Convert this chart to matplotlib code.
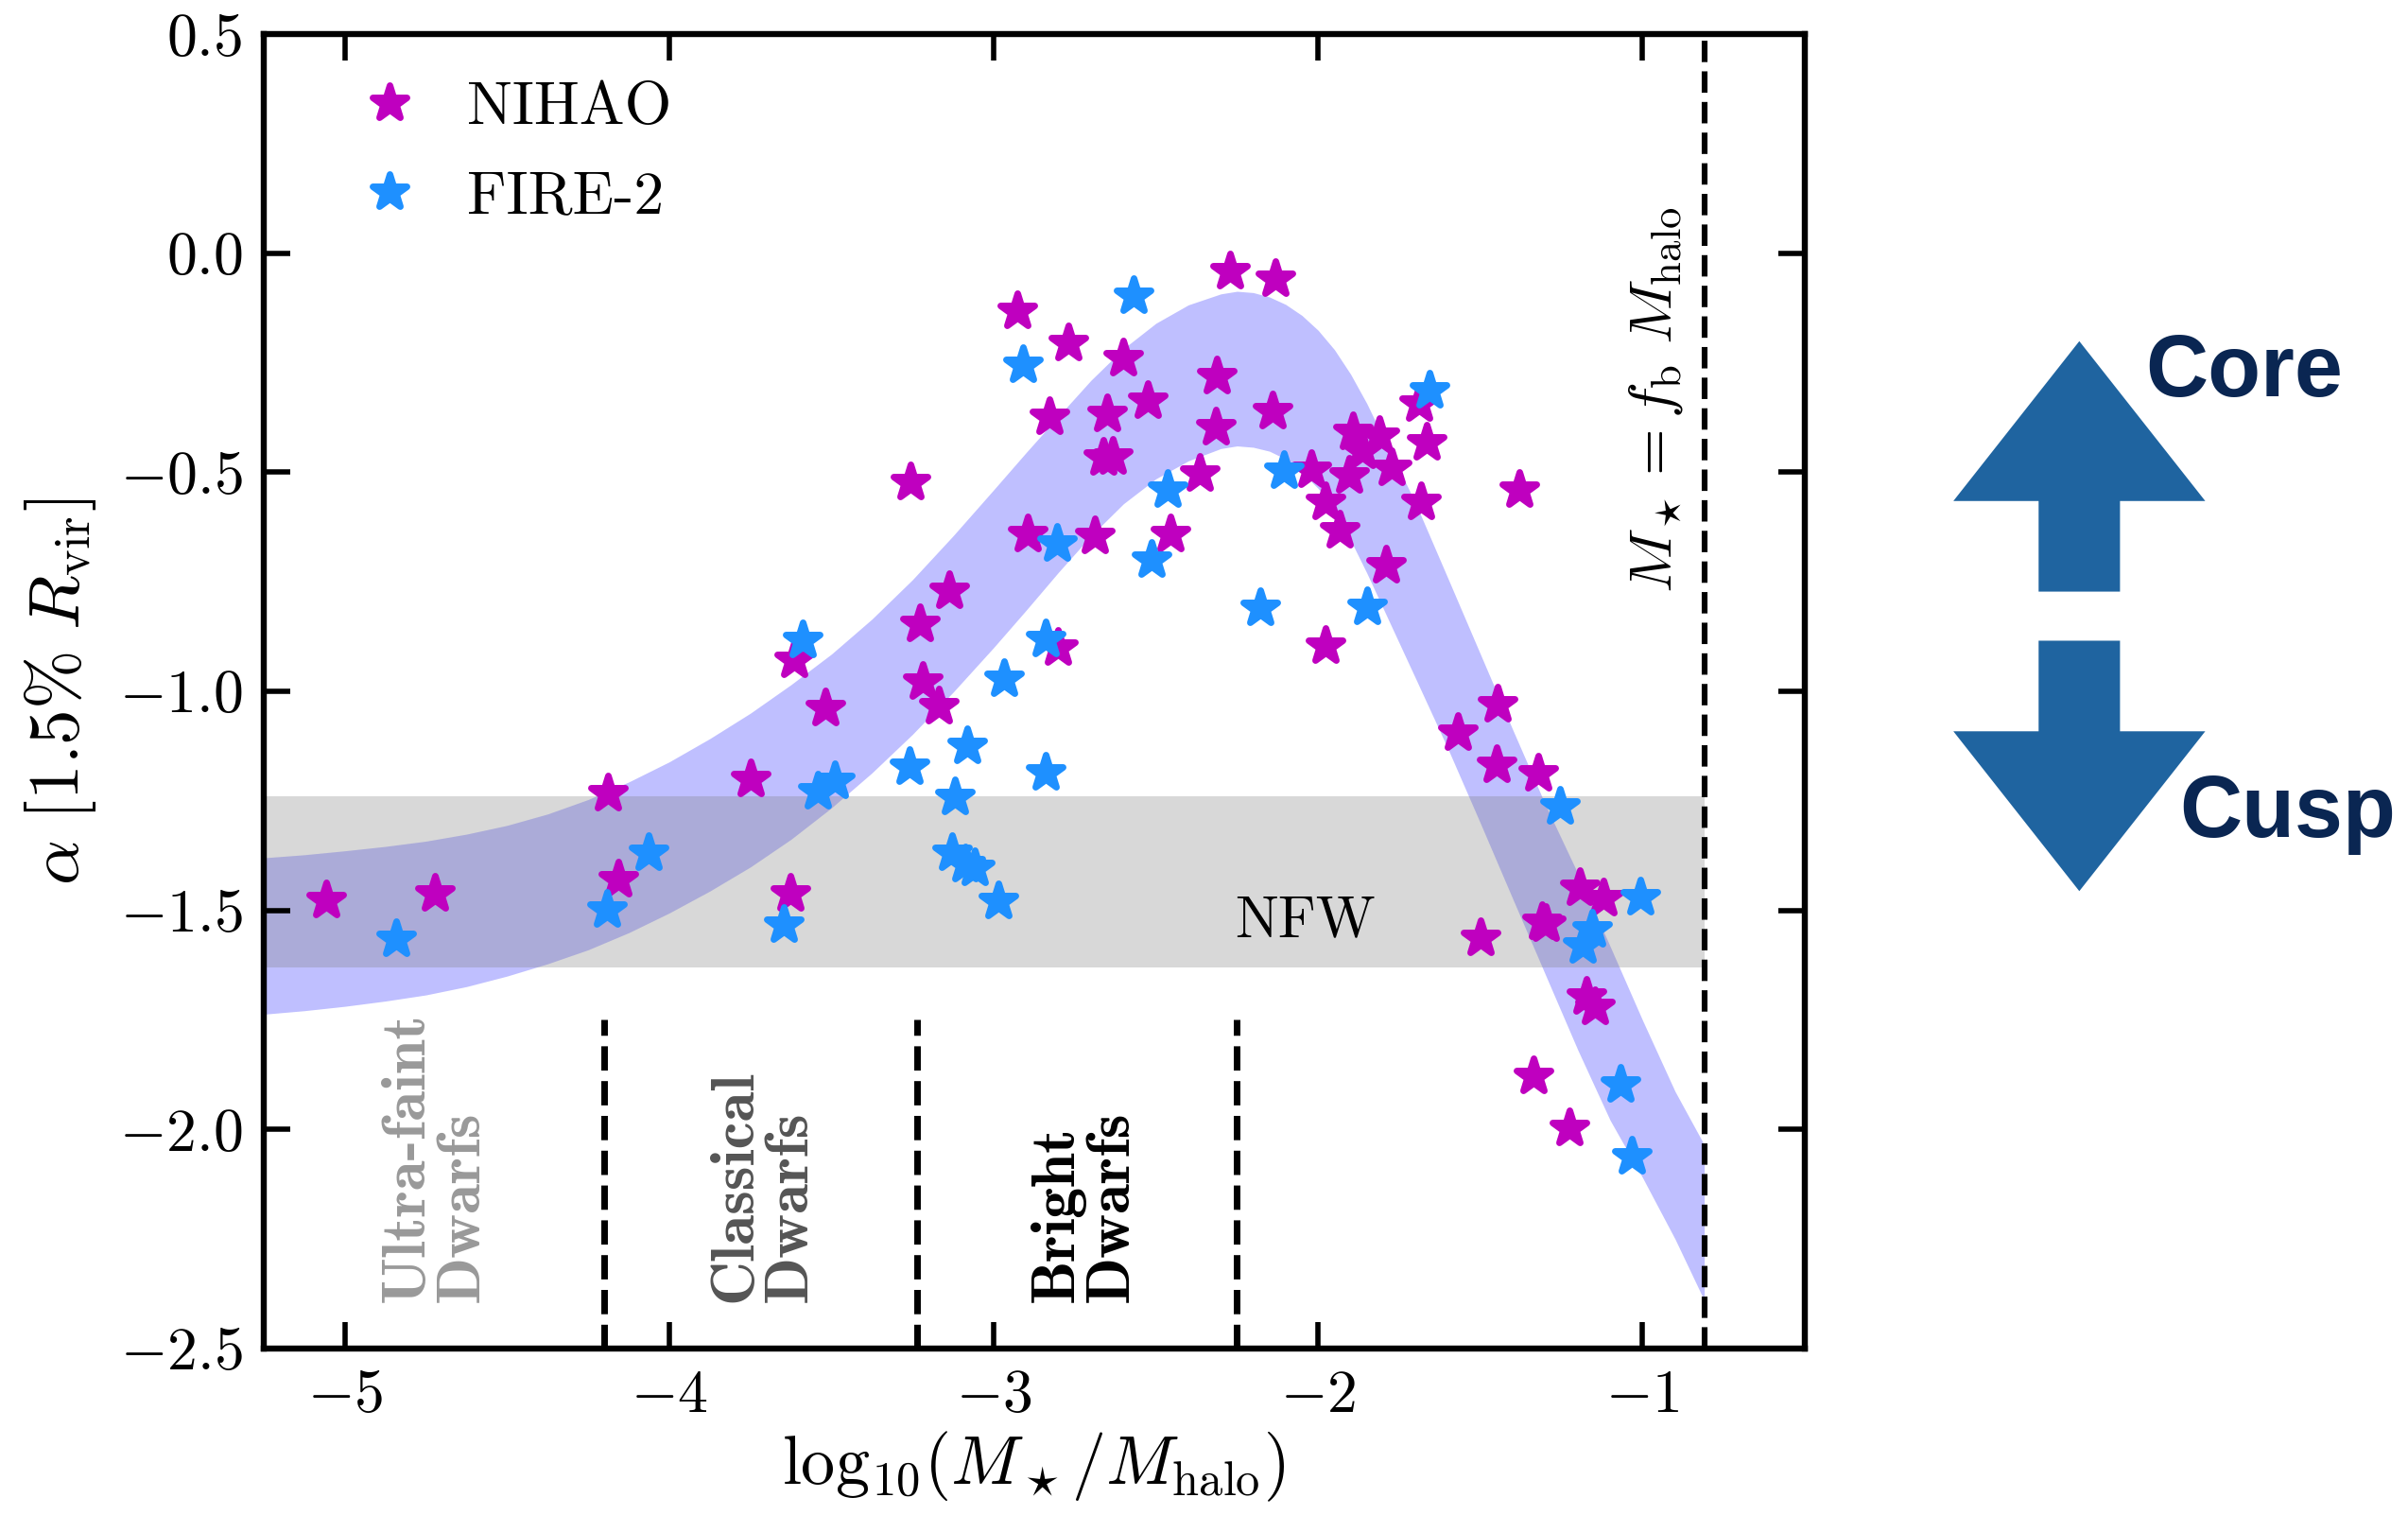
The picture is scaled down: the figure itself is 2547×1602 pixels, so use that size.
import matplotlib
matplotlib.use("Agg")
import matplotlib.pyplot as plt
from matplotlib.patches import FancyArrow
from matplotlib.markers import MarkerStyle

plt.rcParams['font.family'] = 'serif'
plt.rcParams['font.serif'] = ['cmr10']
plt.rcParams['mathtext.fontset'] = 'cm'
plt.rcParams['axes.formatter.use_mathtext'] = True

# simulated galaxies: log10(M*/Mhalo), inner slope alpha
nihao_x = [-5.056, -4.723, -4.189, -4.157, -3.750, -3.626, -3.615, -3.518, -3.256,
           -3.227, -3.219, -3.169, -3.136, -2.928, -2.896, -2.827, -2.801, -2.769,
           -2.688, -2.662, -2.634, -2.651, -2.600, -2.526, -2.455, -2.366, -2.311,
           -2.314, -2.272, -2.131, -2.141, -2.020, -1.976, -1.978, -1.933, -1.905,
           -1.894, -1.865, -1.811, -1.772, -1.792, -1.690, -1.666, -1.683, -1.379,
           -1.569, -1.447, -1.449, -1.321, -1.499, -1.311, -1.297, -1.193, -1.122,
           -1.172, -1.148, -1.335, -1.226]
nihao_y = [-1.476, -1.461, -1.233, -1.430, -1.200, -1.463, -0.928, -1.038, -0.524,
           -0.847, -0.979, -1.035, -0.772, -0.133, -0.641, -0.374, -0.900, -0.206,
           -0.645, -0.467, -0.465, -0.368, -0.240, -0.337, -0.641, -0.503, -0.282,
           -0.398, -0.042, -0.059, -0.362, -0.494, -0.569, -0.896, -0.633, -0.508,
           -0.408, -0.451, -0.418, -0.490, -0.713, -0.343, -0.433, -0.569, -0.541,
           -1.095, -1.030, -1.169, -1.187, -1.564, -1.527, -1.531, -1.450, -1.473,
           -1.697, -1.720, -1.878, -1.997]

fire_x = [-4.842, -4.192, -4.064, -3.648, -3.588, -3.541, -3.491, -3.260, -3.127,
          -3.088, -3.059, -3.119, -3.081, -2.985, -2.969, -2.840, -2.840, -2.911,
          -2.806, -2.570, -2.513, -2.464, -2.177, -2.106, -1.850, -1.656, -1.255,
          -1.008, -1.156, -1.185, -1.069, -1.032]
fire_y = [-1.566, -1.498, -1.369, -1.534, -0.883, -1.228, -1.204, -1.172, -1.369,
          -1.395, -1.403, -1.242, -1.125, -1.480, -0.972, -0.881, -1.186, -0.255,
          -0.663, -0.098, -0.701, -0.540, -0.810, -0.497, -0.807, -0.314, -1.264,
          -1.470, -1.543, -1.581, -1.897, -2.063]

# fitted relation band, upper and lower edge
band_x = [-5.25, -5.125, -5.0, -4.875, -4.75, -4.625, -4.5, -4.375, -4.25, -4.125,
          -4.0, -3.875, -3.75, -3.625, -3.5, -3.375, -3.25, -3.125, -3.0, -2.9,
          -2.8, -2.7, -2.6, -2.5, -2.4, -2.3, -2.25, -2.2, -2.15, -2.1, -2.05,
          -2.0, -1.95, -1.9, -1.85, -1.8, -1.75, -1.7, -1.6, -1.5, -1.4, -1.3,
          -1.2, -1.1, -1.0, -0.9, -0.81]
band_hi = [-1.380, -1.373, -1.364, -1.354, -1.342, -1.326, -1.306, -1.280, -1.247,
           -1.207, -1.161, -1.108, -1.050, -0.985, -0.915, -0.835, -0.745, -0.645,
           -0.540, -0.455, -0.372, -0.290, -0.218, -0.160, -0.118, -0.093, -0.087,
           -0.090, -0.100, -0.117, -0.142, -0.176, -0.220, -0.276, -0.343, -0.420,
           -0.494, -0.570, -0.742, -0.915, -1.088, -1.258, -1.415, -1.582, -1.751,
           -1.913, -2.035]
band_lo = [-1.737, -1.729, -1.719, -1.707, -1.693, -1.674, -1.650, -1.622, -1.590,
           -1.551, -1.506, -1.456, -1.401, -1.338, -1.266, -1.186, -1.098, -1.002,
           -0.900, -0.815, -0.728, -0.645, -0.572, -0.515, -0.474, -0.446, -0.440,
           -0.443, -0.452, -0.470, -0.500, -0.537, -0.585, -0.655, -0.730, -0.810,
           -0.890, -0.970, -1.131, -1.301, -1.474, -1.646, -1.818, -1.979, -2.110,
           -2.250, -2.390]

nfw_range = [-1.63, -1.24]
dwarf_bounds = [-4.2, -3.235, -2.25]
fb_line = -0.81
dwarf_labels = ['Ultra-faint\nDwarfs', 'Classical\nDwarfs', 'Bright\nDwarfs']
dwarf_label_x = [-4.72, -3.71, -2.72]
dwarf_colors = ['#999999', '#555555', 'black']

fig = plt.figure(figsize=(12.735, 8.01), dpi=200)
ax = fig.add_axes([0.1095, 0.1099, 0.64, 0.8676])

ax.fill_between(band_x, band_lo, band_hi, color='blue', alpha=0.25, lw=0, zorder=1)
ax.fill_between([-5.25, fb_line], nfw_range[0], nfw_range[1], color='gray',
                alpha=0.3, lw=0, zorder=1)

star = MarkerStyle('*', joinstyle='round')
ax.plot(nihao_x, nihao_y, ls='none', marker=star, ms=13.5, color='m', mec='m',
        mew=2.5, label='NIHAO', zorder=3)
ax.plot(fire_x, fire_y, ls='none', marker=star, ms=13.5, color='dodgerblue',
        mec='dodgerblue', mew=2.5, label='FIRE-2', zorder=3)

for xb in dwarf_bounds:
    ax.plot([xb, xb], [-2.5, -1.75], color='k', ls='--', lw=2.5, zorder=2)
ax.axvline(fb_line, color='k', ls='--', lw=2.2, zorder=2)

for lab, xl, c in zip(dwarf_labels, dwarf_label_x, dwarf_colors):
    ax.text(xl, -2.395, lab, rotation=90, ha='center', va='bottom',
            multialignment='left', family='cmb10', fontsize=23.5, color=c,
            linespacing=1.0)

ax.text(-2.04, -1.526, 'NFW', ha='center', va='center', fontsize=22)
ax.text(-0.96, -0.335, r'$M_\star = f_{\rm b}\ M_{\rm halo}$', rotation=90,
        ha='center', va='center', fontsize=23)

ax.set_xlim(-5.25, -0.5)
ax.set_ylim(-2.5, 0.5)
ax.set_xticks([-5, -4, -3, -2, -1])
ax.set_yticks([-2.5, -2.0, -1.5, -1.0, -0.5, 0.0, 0.5])
ax.set_yticklabels(['$-2.5$', '$-2.0$', '$-1.5$', '$-1.0$', '$-0.5$', '$0.0$', '$0.5$'])
ax.set_xticklabels(['$-5$', '$-4$', '$-3$', '$-2$', '$-1$'])
ax.tick_params(direction='in', top=True, right=True, length=10, width=2,
               labelsize=23, pad=8)
for sp in ax.spines.values():
    sp.set_linewidth(2.3)

ax.set_xlabel(r'$\mathrm{log}_{10}(M_\star/M_{\rm halo})$', fontsize=26, labelpad=2)
ax.set_ylabel(r'$\alpha\ [1.5\%\ R_{\rm vir}]$', fontsize=27, labelpad=8)

ax.legend(loc='upper left', bbox_to_anchor=(0.062, 0.964), frameon=False,
          fontsize=23, numpoints=1, handlelength=1.0, handletextpad=0.79,
          labelspacing=0.57, borderaxespad=0, borderpad=0)

# core / cusp arrows to the right of the panel
arrow_col = '#1f64a0'
fig.add_artist(FancyArrow(0.8635, 0.6095, 0, 0.1653, width=0.0338,
                          head_width=0.1046, head_length=0.1055,
                          length_includes_head=True, color=arrow_col,
                          lw=0, transform=fig.transFigure))
fig.add_artist(FancyArrow(0.8635, 0.5771, 0, -0.1653, width=0.0338,
                          head_width=0.1046, head_length=0.1055,
                          length_includes_head=True, color=arrow_col,
                          lw=0, transform=fig.transFigure))
fig.text(0.9318, 0.7535, 'Core', ha='center', va='center', fontsize=33,
         fontweight='bold', family='Liberation Sans', color='#0a2652')
fig.text(0.950, 0.4625, 'Cusp', ha='center', va='center', fontsize=33,
         fontweight='bold', family='Liberation Sans', color='#0a2652')

fig.savefig('out.png', dpi=200)
